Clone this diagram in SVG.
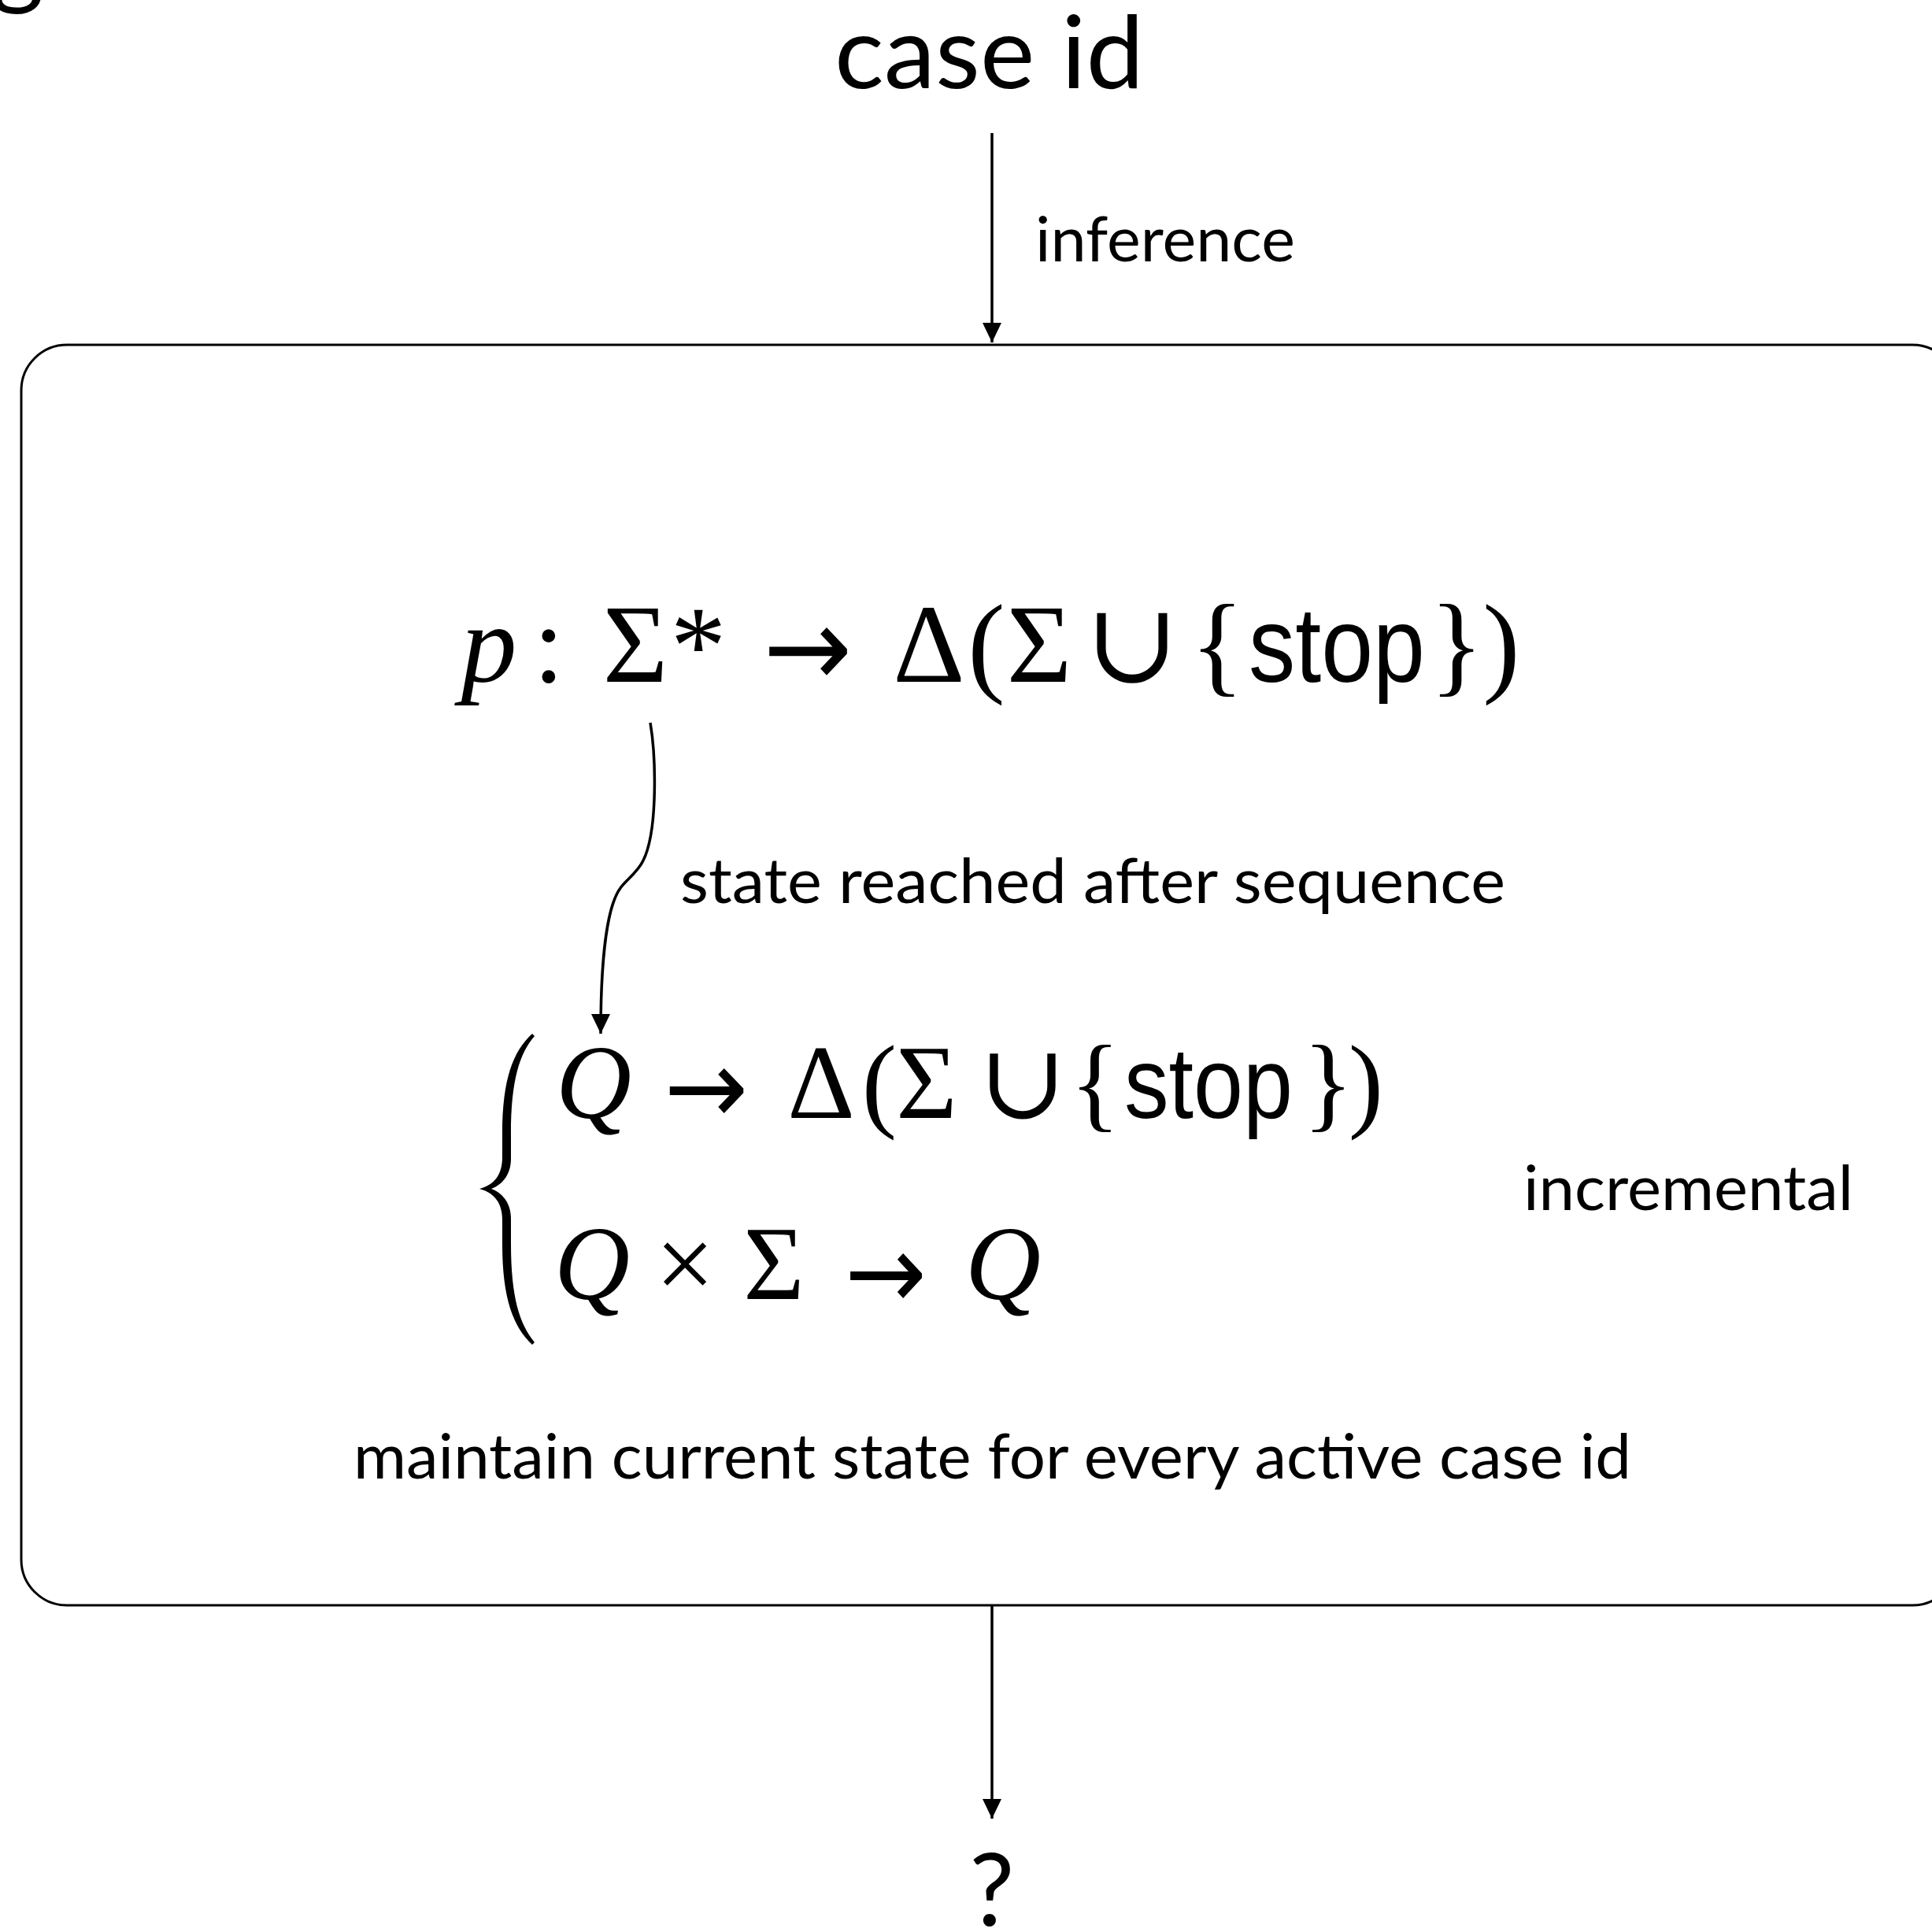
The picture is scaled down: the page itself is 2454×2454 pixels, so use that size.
<svg xmlns="http://www.w3.org/2000/svg" width="2454" height="2454" viewBox="0 0 2454 2454">
<style>
.sans{font-family:Lato,"Noto Sans","Liberation Sans",sans-serif;fill:#000}
.serif{font-family:"Liberation Serif","DejaVu Serif",serif;fill:#000}
.it{font-style:italic}
.sf{font-family:"Liberation Sans","DejaVu Sans",sans-serif;fill:#000}
.arr{font-family:"DejaVu Sans",sans-serif;fill:#000;text-anchor:middle}
.m1{font-size:142px;text-anchor:middle}
.m2{font-size:133px;text-anchor:middle}
.conn{fill:none;stroke:#000;stroke-width:3.5}
</style>
<defs>
<marker id="ah" markerUnits="userSpaceOnUse" markerWidth="26" markerHeight="26" refX="25" refY="12" orient="auto">
<path d="M0,0 L25,12 L0,24 Z" fill="#000"/>
</marker>
</defs>
<rect width="2454" height="2454" fill="#fff"/>

<text class="sans" x="22" y="-6" font-size="130" text-anchor="middle">g</text>

<g id="case-id">
<text class="sans" x="1060" y="112" font-size="128" textLength="393" lengthAdjust="spacingAndGlyphs">case id</text>
</g>

<g id="model-box">
<rect x="27" y="438" width="2460" height="1601" rx="58" ry="58" fill="none" stroke="#000" stroke-width="3"/>
</g>

<g id="formula-p">
<text class="serif it m1" x="621" y="866">p</text>
<text class="serif m1" x="697" y="866">:</text>
<text class="serif m1" x="807" y="866">Σ</text>
<text class="serif m1" x="887" y="868">*</text>
<text class="arr" x="1026" y="872" font-size="142" textLength="113" lengthAdjust="spacingAndGlyphs">→</text>
<text class="serif m1" x="1180" y="866">Δ</text>
<text class="serif m1" x="1253" y="866">(</text>
<text class="serif m1" x="1320" y="866">Σ</text>
<text class="serif m1" x="1438" y="866">∪</text>
<text class="serif m1" x="1546" y="866">{</text>
<text class="sf" x="1586" y="866" font-size="136" textLength="224" lengthAdjust="spacingAndGlyphs">stop</text>
<text class="serif m1" x="1850" y="866">}</text>
<text class="serif m1" x="1907" y="866">)</text>
</g>

<g id="formula-q">
<path d="M676,1313 C652,1335 638,1370 638,1440 L638,1470 C638,1492 628,1505 609,1510 C628,1515 638,1528 638,1550 L638,1580 C638,1650 652,1685 676,1708 L679,1705 C660,1682 649,1648 649,1580 L649,1548 C649,1530 640,1516 624,1510 C640,1504 649,1490 649,1472 L649,1440 C649,1372 660,1338 679,1316 Z" fill="#000"/>
<text class="serif it m2" x="754" y="1420">Q</text>
<text class="arr" x="897" y="1427" font-size="133" textLength="107" lengthAdjust="spacingAndGlyphs">→</text>
<text class="serif m2" x="1043" y="1420">Δ</text>
<text class="serif m2" x="1117" y="1420">(</text>
<text class="serif m2" x="1177" y="1420">Σ</text>
<text class="serif m2" x="1299" y="1420">∪</text>
<text class="serif m2" x="1391" y="1420">{</text>
<text class="sf" x="1428" y="1420" font-size="128" textLength="214" lengthAdjust="spacingAndGlyphs">stop</text>
<text class="serif m2" x="1687" y="1420">}</text>
<text class="serif m2" x="1735" y="1420">)</text>
<text class="serif it m2" x="752" y="1650">Q</text>
<text class="serif m2" x="870" y="1650">×</text>
<text class="serif m2" x="983" y="1650">Σ</text>
<text class="arr" x="1125" y="1662" font-size="133" textLength="104" lengthAdjust="spacingAndGlyphs">→</text>
<text class="serif it m2" x="1274" y="1650">Q</text>
</g>

<g id="label-incremental">
<text class="sans" x="1935" y="1537" font-size="80" textLength="419" lengthAdjust="spacingAndGlyphs">incremental</text>
</g>

<g id="label-maintain">
<text class="sans" x="449" y="1878" font-size="80" textLength="1623" lengthAdjust="spacingAndGlyphs">maintain current state for every active case id</text>
</g>

<g id="output">
<text class="sans" x="1260" y="2446" font-size="128" text-anchor="middle">?</text>
</g>

<g id="connectors">
<line class="conn" x1="1260" y1="169" x2="1260" y2="435" marker-end="url(#ah)"/>
<text class="sans" x="1315" y="332" font-size="80" textLength="330" lengthAdjust="spacingAndGlyphs">inference</text>
<path class="conn" d="M826,918 C833,960 836,1055 817,1093 C810,1108 795,1118 788,1128 C768,1155 763,1240 763,1313" marker-end="url(#ah)"/>
<text class="sans" x="864" y="1147" font-size="80" textLength="1048" lengthAdjust="spacingAndGlyphs">state reached after sequence</text>
<line class="conn" x1="1260" y1="2040" x2="1260" y2="2310" marker-end="url(#ah)"/>
</g>
</svg>
